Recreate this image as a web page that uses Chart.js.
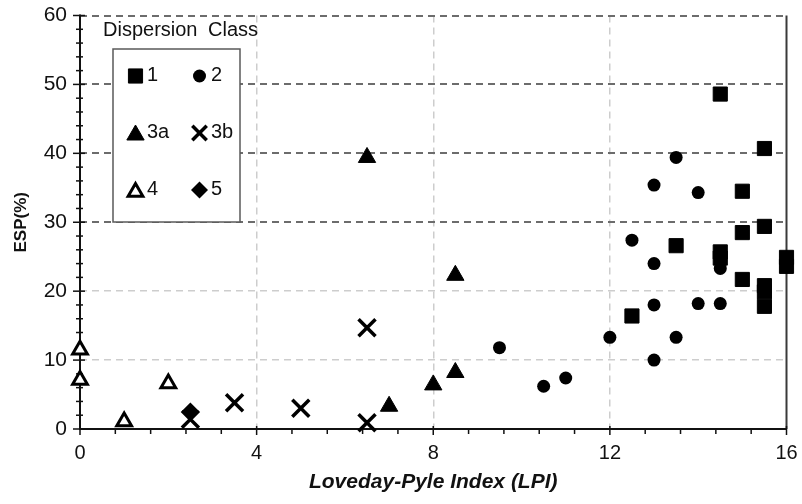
<!DOCTYPE html>
<html>
<head>
<meta charset="utf-8">
<script src="https://cdn.jsdelivr.net/npm/chart.js@4.4.1/dist/chart.umd.min.js"></script>
<style>
    html, body { margin: 0; padding: 0; background: #fff; }
    #wrap { width: 802px; height: 504px; }
</style>
</head>
<body>
<div id="wrap"><canvas id="espChart" width="802" height="504"></canvas></div>
<script>
// Values (LPI on x, ESP % on y), one pair of arrays per class
const class1X = [12.5, 13.5, 14.5, 14.5, 14.5, 15, 15, 15, 15.5, 15.5, 15.5, 15.5, 15.5, 16, 16];
const class1Y = [16.4, 26.6, 48.6, 25.7, 24.8, 34.5, 28.5, 21.7, 40.7, 29.4, 20.8, 19.9, 17.8, 24.9, 23.6];

const class2X = [9.5, 10.5, 11, 12, 12.5, 13, 13, 13, 13, 13.5, 13.5, 14, 14, 14.5, 14.5];
const class2Y = [11.8, 6.2, 7.4, 13.3, 27.4, 35.4, 24, 18, 10, 39.4, 13.3, 34.3, 18.2, 23.3, 18.2];

const class3aX = [6.5, 7, 8, 8.5, 8.5];
const class3aY = [39.4, 3.3, 6.4, 8.2, 22.3];

const class3bX = [2.5, 3.5, 5, 6.5, 6.5];
const class3bY = [1.4, 3.8, 3.0, 0.9, 14.7];

const class4X = [0, 0, 1, 2];
const class4Y = [11.5, 7.1, 1.1, 6.6];

const class5X = [2.5];
const class5Y = [2.6];

const classLabels = ['1', '2', '3a', '3b', '4', '5'];
const xTickValues = [0, 4, 8, 12, 16];

const FONT = "'Liberation Sans', Arial, sans-serif";

function toPoints(xs, ys) {
    return xs.map((x, i) => ({ x: x, y: ys[i] }));
}

// marker styles per class, reused by the legend box
const markerStyles = [
    { pointStyle: 'rect', radius: 10, fill: '#000', border: '#000', borderWidth: 1 },
    { pointStyle: 'circle', radius: 6.5, fill: '#000', border: '#000', borderWidth: 0 },
    { pointStyle: 'triangle', radius: 10, fill: '#000', border: '#000', borderWidth: 1 },
    { pointStyle: 'crossRot', radius: 12, fill: '#000', border: '#000', borderWidth: 3.5 },
    { pointStyle: 'triangle', radius: 8.5, fill: '#fff', border: '#000', borderWidth: 3 },
    { pointStyle: 'rectRot', radius: 8.5, fill: '#000', border: '#000', borderWidth: 0 }
];

const seriesData = [
    toPoints(class1X, class1Y),
    toPoints(class2X, class2Y),
    toPoints(class3aX, class3aY),
    toPoints(class3bX, class3bY),
    toPoints(class4X, class4Y),
    toPoints(class5X, class5Y)
];

const datasets = seriesData.map((pts, i) => ({
    label: classLabels[i],
    data: pts,
    pointStyle: markerStyles[i].pointStyle,
    pointRadius: markerStyles[i].radius,
    pointHoverRadius: markerStyles[i].radius,
    backgroundColor: markerStyles[i].fill,
    borderColor: markerStyles[i].border,
    pointBorderWidth: markerStyles[i].borderWidth,
    borderWidth: markerStyles[i].borderWidth,
    clip: false
}));

// axes lines, minor ticks and right frame line
const axesPlugin = {
    id: 'axesFrame',
    beforeDatasetsDraw(chart) {
        const ctx = chart.ctx;
        const xs = chart.scales.x;
        const ys = chart.scales.y;
        const x0 = xs.getPixelForValue(0);
        const x16 = xs.getPixelForValue(16);
        const y0 = ys.getPixelForValue(0);
        const y60 = ys.getPixelForValue(60);
        ctx.save();
        ctx.setLineDash([]);

        // right frame
        ctx.strokeStyle = '#3a3a3a';
        ctx.lineWidth = 2;
        ctx.beginPath();
        ctx.moveTo(x16, y60);
        ctx.lineTo(x16, y0);
        ctx.stroke();

        ctx.strokeStyle = '#111';
        ctx.lineWidth = 1.5;
        // x ticks every 0.8, major every 4
        for (let i = 0; i <= 20; i++) {
            const px = xs.getPixelForValue(i * 0.8);
            const major = i % 5 === 0;
            ctx.beginPath();
            ctx.moveTo(px, major ? y0 - 3 : y0);
            ctx.lineTo(px, y0 + (major ? 6 : 5));
            ctx.stroke();
        }
        // y ticks every 2, major every 10
        for (let i = 0; i <= 30; i++) {
            const py = ys.getPixelForValue(i * 2);
            const major = i % 5 === 0;
            ctx.beginPath();
            ctx.moveTo(x0 - (major ? 7 : 4), py);
            ctx.lineTo(x0 + (major ? 5 : 3), py);
            ctx.stroke();
        }

        ctx.lineWidth = 2;
        ctx.beginPath();
        ctx.moveTo(x0, y60 - 1);
        ctx.lineTo(x0, y0);
        ctx.lineTo(x16, y0);
        ctx.stroke();
        ctx.restore();
    }
};

// boxed legend in a 2 x 3 grid, as in the reference
const legendPlugin = {
    id: 'classLegend',
    afterDatasetsDraw(chart) {
        const ctx = chart.ctx;
        ctx.save();
        ctx.setLineDash([]);
        ctx.fillStyle = '#fff';
        ctx.fillRect(113, 49, 127, 173);
        ctx.strokeStyle = '#5a5a5a';
        ctx.lineWidth = 1.5;
        ctx.strokeRect(113, 49, 127, 173);

        ctx.fillStyle = '#111';
        ctx.font = '20px ' + FONT;
        ctx.textBaseline = 'middle';
        ctx.textAlign = 'left';
        ctx.fillText('Dispersion', 103, 30);
        ctx.fillText('Class', 208, 30);

        const colMarker = [135.5, 199.5];
        const colText = [147, 211];
        const rows = [76, 133, 190];
        classLabels.forEach((label, i) => {
            const col = i % 2;
            const row = Math.floor(i / 2);
            const st = markerStyles[i];
            ctx.fillStyle = st.fill;
            ctx.strokeStyle = st.border;
            ctx.lineWidth = st.borderWidth;
            Chart.helpers.drawPoint(ctx, {
                pointStyle: st.pointStyle,
                radius: st.pointStyle === 'crossRot' ? st.radius * 0.85 : st.radius,
                rotation: 0,
                borderWidth: st.borderWidth
            }, colMarker[col], rows[row] + (st.pointStyle === 'triangle' ? 2 : 0));
            ctx.fillStyle = '#111';
            ctx.font = '20px ' + FONT;
            ctx.fillText(label, colText[col], rows[row] - 1);
        });
        ctx.restore();
    }
};

const ctx = document.getElementById('espChart').getContext('2d');
new Chart(ctx, {
    type: 'scatter',
    data: { datasets: datasets },
    options: {
        responsive: false,
        animation: false,
        events: [],
        layout: { padding: { top: 15, right: 6, left: 0, bottom: 0 } },
        plugins: {
            legend: { display: false },
            tooltip: { enabled: false }
        },
        scales: {
            x: {
                type: 'linear',
                min: 0,
                max: 16,
                afterBuildTicks: scale => {
                    scale.ticks = xTickValues.map(v => ({ value: v }));
                },
                afterFit: scale => {
                    scale.height = 75;
                    scale.paddingLeft = 0;
                    scale.paddingRight = 0;
                },
                border: { display: false, dash: [7, 5] },
                grid: {
                    drawTicks: false,
                    color: c => (c.tick.value === 0 || c.tick.value === 16) ? 'rgba(0,0,0,0)' : '#cdcdcd',
                    lineWidth: 1.5
                },
                ticks: {
                    padding: 12,
                    color: '#111',
                    maxRotation: 0,
                    font: { family: FONT, size: 20 }
                },
                title: {
                    display: true,
                    text: 'Loveday-Pyle Index (LPI)',
                    color: '#111',
                    font: { family: FONT, size: 21, weight: 'bold', style: 'italic' },
                    padding: { top: 0, bottom: 9 }
                }
            },
            y: {
                type: 'linear',
                min: 0,
                max: 60,
                ticks: {
                    stepSize: 10,
                    padding: 13,
                    color: '#111',
                    font: { family: FONT, size: 21 }
                },
                afterFit: scale => {
                    scale.width = 80;
                    scale.paddingTop = 0;
                    scale.paddingBottom = 0;
                },
                border: { display: false, dash: [7, 5] },
                grid: {
                    drawTicks: false,
                    color: c => {
                        const v = c.tick.value;
                        if (v === 0) return 'rgba(0,0,0,0)';
                        return v <= 20 ? '#cdcdcd' : '#6c6c6c';
                    },
                    lineWidth: c => c.tick.value <= 20 ? 1.5 : 2
                },
                title: {
                    display: true,
                    text: 'ESP(%)',
                    color: '#111',
                    font: { family: FONT, size: 17, weight: 'bold' },
                    padding: { top: 11, bottom: 0 }
                }
            }
        }
    },
    plugins: [axesPlugin, legendPlugin]
});
</script>
</body>
</html>
